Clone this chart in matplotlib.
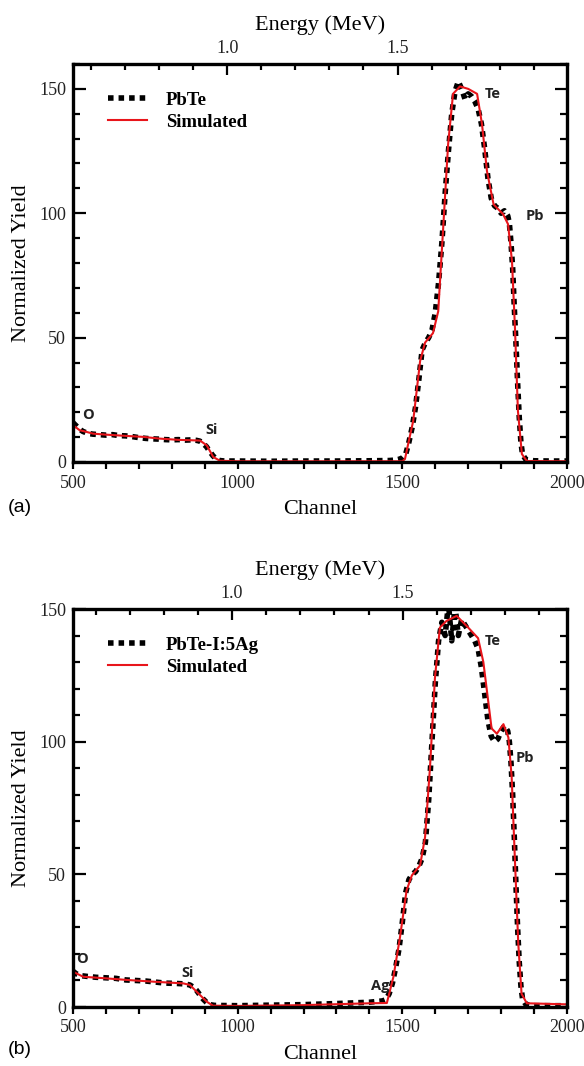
import matplotlib
matplotlib.use('Agg')
import matplotlib.pyplot as plt
from matplotlib.ticker import MultipleLocator, FormatStrFormatter

# panel (a): PbTe
ch_a_exp = [500, 510, 520, 530, 545, 560, 580, 600, 620, 640, 660, 680, 700, 720, 740, 760,
            780, 800, 820, 840, 860, 875, 885, 895, 905, 915, 925, 935, 945, 960, 1000, 1100,
            1200, 1300, 1400, 1460, 1480, 1490, 1500, 1510, 1520, 1530, 1540, 1550, 1560, 1570,
            1580, 1590, 1600, 1610, 1620, 1630, 1640, 1650, 1660, 1670, 1680, 1690, 1700, 1710,
            1720, 1730, 1740, 1750, 1760, 1770, 1780, 1790, 1800, 1810, 1820, 1825, 1830, 1835,
            1840, 1845, 1850, 1855, 1860, 1865, 1875, 1900, 1950, 2000]
y_a_exp = [15.8, 14.5, 13.2, 12.3, 11.5, 11.2, 11.0, 10.8, 11.0, 10.6, 10.5, 10.2, 9.8, 9.5, 9.3, 9.2,
           9.0, 8.9, 9.0, 8.8, 8.9, 8.7, 8.4, 7.5, 6.2, 4.3, 2.5, 1.2, 0.6, 0.4, 0.4, 0.3,
           0.4, 0.4, 0.5, 0.6, 0.8, 1.1, 1.6, 3.0, 8.0, 14.0, 22.0, 33.0, 45.0, 48.0,
           50.0, 53.0, 60.0, 72.0, 88.0, 108.0, 125.0, 140.0, 149.0, 153.0, 150.0, 146.0, 148.0, 147.0,
           145.0, 142.0, 136.0, 126.0, 114.0, 106.0, 103.0, 102.0, 100.0, 101.0, 99.0, 96.0, 88.0, 78.0,
           62.0, 48.0, 32.0, 18.0, 8.0, 3.0, 1.0, 0.5, 0.4, 0.4]
ch_a_sim = [500, 520, 541, 561, 600, 660, 713, 764, 820, 870, 886, 906, 926, 946, 1000, 1500,
            1508, 1518, 1533, 1554, 1569, 1593, 1609, 1624, 1639, 1654, 1675, 1700, 1727, 1742,
            1757, 1777, 1806, 1821, 1833, 1842, 1851, 1863, 1878, 2000]
y_a_sim = [14.8, 12.8, 12.1, 11.4, 11.0, 10.5, 10.1, 9.4, 8.9, 8.7, 8.6, 6.7, 2.0, 0.5, 0.3, 0.3,
           1.2, 7.4, 16.5, 40.6, 48.0, 51.8, 60.6, 94.0, 127.7, 148.0, 151.0, 150.0, 148.0, 135.7,
           116.9, 103.6, 99.6, 95.6, 80.7, 53.8, 20.5, 3.2, 0.4, 0.3]

# panel (b): PbTe-I:5Ag
ch_b_exp = [500, 510, 525, 545, 570, 600, 630, 660, 690, 720, 750, 780, 810, 840, 855, 865,
            875, 885, 895, 905, 915, 930, 1000, 1100, 1200, 1300, 1400, 1440, 1450, 1460, 1470,
            1480, 1490, 1500, 1510, 1520, 1530, 1540, 1550, 1560, 1570, 1580, 1590, 1600, 1610,
            1620, 1630, 1640, 1650, 1660, 1670, 1680, 1690, 1700, 1710, 1720, 1730, 1740, 1750,
            1760, 1770, 1780, 1790, 1800, 1810, 1820, 1825, 1830, 1835, 1840, 1845, 1850, 1855,
            1860, 1865, 1875, 1900, 1950, 2000]
y_b_exp = [13.5, 12.5, 11.8, 11.5, 11.2, 11.0, 10.8, 10.2, 10.0, 9.8, 9.4, 9.0, 8.9, 8.7, 8.3, 7.5,
           6.3, 4.6, 3.0, 1.8, 0.9, 0.6, 0.5, 0.7, 0.9, 1.3, 1.8, 2.3, 2.8, 5.0, 9.0,
           15.0, 22.0, 32.0, 43.0, 48.0, 50.0, 51.0, 53.0, 56.0, 62.0, 78.0, 100.0, 122.0, 138.0,
           145.0, 140.0, 152.0, 138.0, 151.0, 140.0, 146.0, 144.0, 142.0, 140.0, 138.0, 135.0, 128.0, 118.0,
           108.0, 102.0, 100.0, 101.0, 104.0, 106.0, 104.0, 100.0, 92.0, 80.0, 64.0, 46.0, 30.0, 17.0,
           8.0, 3.0, 1.0, 0.5, 0.5, 0.5]
ch_b_sim = [500, 531, 600, 663, 750, 835, 855, 880, 906, 925, 1000, 1200, 1400, 1453, 1473, 1493,
            1513, 1529, 1554, 1569, 1584, 1599, 1614, 1634, 1665, 1700, 1730, 1746, 1761, 1771,
            1787, 1807, 1822, 1832, 1842, 1852, 1862, 1878, 2000]
y_b_sim = [13.3, 11.4, 10.8, 10.2, 9.5, 8.9, 8.3, 5.2, 2.0, 0.5, 0.4, 0.7, 1.4, 1.5, 11.4, 26.4,
           44.0, 49.6, 53.4, 64.0, 90.3, 124.0, 143.0, 145.5, 147.4, 143.0, 139.0, 130.0, 115.0, 105.0,
           103.0, 106.6, 101.6, 86.6, 55.0, 24.0, 5.0, 1.4, 1.0]

# peak labels (text, channel, yield)
peaks_a = [('O', 546, 19), ('Si', 922, 13), ('Te', 1775, 148), ('Pb', 1903, 99)]
peaks_b = [('O', 526, 18), ('Si', 849, 13), ('Ag', 1432, 8), ('Te', 1776, 138), ('Pb', 1873, 94)]

# channel -> energy (MeV) calibration
cal_a = (968, 1035)
cal_b = (983, 1036)

SERIF = ['Liberation Serif', 'DejaVu Serif']
SANS = ['Open Sans', 'DejaVu Sans']
W, H = 584, 1066


def draw_panel(rect, ch_exp, y_exp, ch_sim, y_sim, name, ymax, peaks, cal, tag, tag_y):
    ax = fig.add_axes(rect)
    ax.plot(ch_exp, y_exp, color='black', lw=4.0, linestyle=(0, (1, 0.9)), label=name)
    ax.plot(ch_sim, y_sim, color='#e8151b', lw=1.5, label='Simulated')
    ax.set_xlim(500, 2000)
    ax.set_ylim(0, ymax)
    ax.xaxis.set_major_locator(MultipleLocator(500))
    ax.xaxis.set_minor_locator(MultipleLocator(100))
    ax.yaxis.set_major_locator(MultipleLocator(50))
    ax.yaxis.set_minor_locator(MultipleLocator(10))
    for s in ax.spines.values():
        s.set_linewidth(2.4)
    ax.tick_params(axis='y', which='both', direction='in', left=True, right=True, width=1.6, pad=5)
    ax.tick_params(axis='y', which='major', length=9)
    ax.tick_params(axis='y', which='minor', length=5)
    ax.tick_params(axis='x', which='both', direction='out', top=False, width=1.6, length=5, pad=4)
    for lab in ax.get_xticklabels() + ax.get_yticklabels():
        lab.set_family(SERIF)
        lab.set_fontsize(13)
        lab.set_color('#222222')
    ax.set_xlabel('Channel', family=SERIF, fontsize=16)
    ax.set_ylabel('Normalized Yield', family=SERIF, fontsize=16)
    ax.xaxis.set_label_coords(0.5, -0.095)
    ax.yaxis.set_label_coords(-0.085, 0.5)

    c0, k = cal
    sec = ax.secondary_xaxis('top', functions=(lambda c: 1.0 + (c - c0) / k,
                                               lambda e: c0 + (e - 1.0) * k))
    sec.xaxis.set_major_locator(MultipleLocator(0.5))
    sec.xaxis.set_minor_locator(MultipleLocator(0.1))
    sec.xaxis.set_major_formatter(FormatStrFormatter('%.1f'))
    sec.tick_params(which='both', direction='in', width=1.6, pad=5)
    sec.tick_params(which='major', length=8)
    sec.tick_params(which='minor', length=4)
    for lab in sec.get_xticklabels():
        lab.set_family(SERIF)
        lab.set_fontsize(13)
        lab.set_color('#222222')
    sec.set_xlabel('Energy (MeV)', family=SERIF, fontsize=16, labelpad=7)

    ax.legend(loc='upper left', bbox_to_anchor=(0.07, 0.93), frameon=False,
              borderaxespad=0, borderpad=0, handlelength=2.1, handletextpad=1.0,
              labelspacing=0.25, prop={'family': SERIF, 'weight': 'bold', 'size': 13.5})

    for t, c, v in peaks:
        ax.text(c, v, t, family=SANS, fontweight='bold', fontsize=10.5,
                ha='center', va='center', color='#222222')

    fig.text(20 / W, 1 - tag_y / H, tag, family=['Liberation Sans', 'DejaVu Sans'],
             fontsize=14, ha='center', va='center')
    return ax


fig = plt.figure(figsize=(W / 100, H / 100), dpi=100)
left, width = 73 / W, 494 / W
ph = 398 / H
draw_panel([left, 1 - 462 / H, width, ph], ch_a_exp, y_a_exp, ch_a_sim, y_a_sim,
           'PbTe', 160, peaks_a, cal_a, '(a)', 508)
draw_panel([left, 1 - 1007 / H, width, ph], ch_b_exp, y_b_exp, ch_b_sim, y_b_sim,
           'PbTe-I:5Ag', 150, peaks_b, cal_b, '(b)', 1050)

fig.savefig('out.png', dpi=100)
